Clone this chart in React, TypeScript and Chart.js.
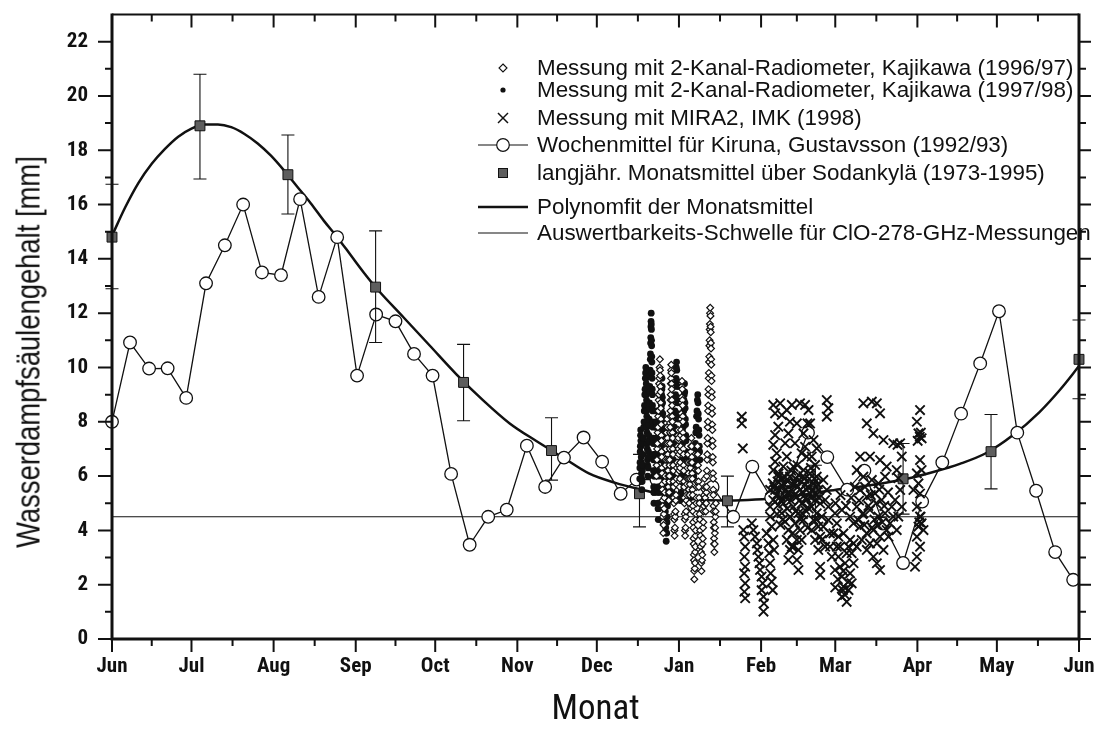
import React, { useEffect, useRef } from 'react';
import { Chart, registerables } from 'chart.js';

Chart.register(...registerables);

const FONT_COND = "'Roboto Condensed', 'Liberation Sans Narrow', 'Liberation Sans', Arial, sans-serif";
const FONT_REG = "'Liberation Sans', Arial, sans-serif";
const INK = '#111111';

// ---------- axes ----------
const monthStarts = [0, 30, 61, 92, 122, 153, 183, 214, 245, 273, 304, 334, 365];
const monthLabels = ['Jun', 'Jul', 'Aug', 'Sep', 'Oct', 'Nov', 'Dec', 'Jan', 'Feb', 'Mar', 'Apr', 'May', 'Jun'];
const monthMids = [15, 45.5, 76.5, 107, 137.5, 168, 198.5, 229.5, 258.5, 288.5, 319, 349.5];
const yMajorTicks = [0, 2, 4, 6, 8, 10, 12, 14, 16, 18, 20, 22];
const yMinorTicks = [1, 3, 5, 7, 9, 11, 13, 15, 17, 19, 21];

const xTitle = 'Monat';
const yTitle = 'Wasserdampfsäulengehalt [mm]';

const legendLabels = [
  'Messung mit 2-Kanal-Radiometer, Kajikawa (1996/97)',
  'Messung mit 2-Kanal-Radiometer, Kajikawa (1997/98)',
  'Messung mit MIRA2, IMK (1998)',
  'Wochenmittel für Kiruna, Gustavsson (1992/93)',
  'langjähr. Monatsmittel über Sodankylä (1973-1995)',
  'Polynomfit der Monatsmittel',
  'Auswertbarkeits-Schwelle für ClO-278-GHz-Messungen',
];

// ---------- data: [day since 1 June, mm] ----------
const kirunaWeekly: [number, number][] = [
  [0, 8.0], [6.8, 10.92], [14, 9.96], [21, 9.97], [28, 8.88], [35.5, 13.1], [42.6, 14.5], [49.5, 16.0],
  [56.6, 13.5], [63.8, 13.4], [71, 16.2], [78, 12.6], [85, 14.8], [92.5, 9.7], [99.7, 11.95], [107, 11.7],
  [114, 10.5], [121, 9.7], [128, 6.08], [135, 3.47], [142, 4.5], [149, 4.76], [156.6, 7.12], [163.5, 5.6],
  [170.6, 6.68], [178, 7.42], [185, 6.53], [192, 5.35], [198, 5.87], [205.5, 5.87], [212.7, 6.2], [219.7, 4.9],
  [226.7, 5.6], [234.5, 4.5], [241.7, 6.35], [248.8, 5.2], [255.8, 5.8], [262.7, 7.6], [270, 6.7], [277.5, 5.5],
  [284, 6.2], [291, 4.25], [298.6, 2.8], [305.8, 5.06], [313.4, 6.5], [320.5, 8.3], [327.7, 10.15], [334.8, 12.07],
  [341.7, 7.6], [348.8, 5.46], [356, 3.2], [362.8, 2.18],
];

const monthlyMeanDays = [0, 33.2, 66.4, 99.5, 132.7, 165.9, 199.1, 232.3, 265.5, 298.6, 331.8, 365];
const monthlyMeanVals = [14.8, 18.9, 17.1, 12.96, 9.45, 6.94, 5.35, 5.09, 5.45, 5.9, 6.9, 10.3];
const monthlyErrLow = [12.9, 16.94, 15.65, 10.92, 8.04, 5.85, 4.13, 4.13, 4.5, 4.6, 5.53, 8.85];
const monthlyErrHigh = [16.75, 20.8, 18.56, 15.03, 10.85, 8.15, 6.8, 6.0, 6.4, 7.2, 8.27, 11.75];

const polyFit: [number, number][] = [
  [0, 14.85], [5, 15.9], [10, 16.8], [15, 17.5], [20, 18.05], [25, 18.5], [30, 18.8], [35, 18.95],
  [40, 18.95], [45, 18.85], [50, 18.6], [55, 18.25], [60, 17.8], [65, 17.25], [70, 16.65], [75, 16.05],
  [80, 15.4], [85, 14.8], [90, 14.15], [95, 13.5], [100, 12.9], [110, 11.85], [120, 10.8], [130, 9.75],
  [140, 8.8], [150, 7.95], [160, 7.3], [170, 6.7], [180, 6.1], [190, 5.75], [200, 5.5], [210, 5.28],
  [220, 5.15], [230, 5.1], [240, 5.12], [250, 5.18], [260, 5.3], [270, 5.45], [280, 5.58], [290, 5.72],
  [300, 5.9], [310, 6.15], [320, 6.45], [330, 6.85], [340, 7.5], [350, 8.35], [358, 9.2], [365, 10.05],
];

const thresholdLine: [number, number][] = [[0, 4.5], [365, 4.5]];

const kajikawa9697: [number, number][] = [
  [205.5, 6.0], [205.59, 6.4], [205.69, 6.6], [205.78, 7.0], [205.87, 7.2], [205.96, 7.6], [206.06, 7.8], [206.15, 8.2], [206.24, 8.4], [206.33, 8.8], [206.43, 9.0], [206.52, 9.4], [206.61, 9.6], [206.7, 10.0], [206.8, 10.3],
  [206.86, 9.9], [206.92, 9.7], [206.98, 9.3], [207.04, 9.1], [207.1, 8.7], [207.16, 8.5], [207.22, 8.1], [207.28, 7.9], [207.34, 7.5], [207.4, 7.3], [207.46, 6.9], [207.52, 6.7], [207.58, 6.3], [207.64, 6.1], [207.7, 5.7], [207.76, 5.5], [207.82, 5.1], [207.88, 4.9], [207.94, 4.5], [208.0, 4.3], [208.06, 3.9],
  [208.2, 4.2], [208.3, 4.6], [208.4, 4.8], [208.5, 5.2], [208.6, 5.4], [208.7, 5.8], [208.8, 6.0], [208.9, 6.4], [209.0, 6.6], [209.1, 7.0], [209.2, 7.2], [209.3, 7.6], [209.4, 7.8], [209.5, 8.1],
  [209.6, 7.8], [209.66, 7.4], [209.72, 7.2], [209.78, 6.8], [209.84, 6.6], [209.9, 6.2], [209.96, 6.0], [210.02, 5.6], [210.08, 5.4], [210.15, 5.1],
  [210.3, 5.4], [210.35, 5.8], [210.4, 6.0], [210.45, 6.4], [210.5, 6.6], [210.55, 7.0], [210.6, 7.2], [210.65, 7.6], [210.7, 7.8], [210.75, 8.2], [210.8, 8.4], [210.85, 8.8], [210.9, 9.0], [210.95, 9.4], [211.0, 9.6], [211.05, 9.9], [211.1, 10.1],
  [211.15, 9.8], [211.21, 9.4], [211.27, 9.2], [211.33, 8.8], [211.39, 8.6], [211.45, 8.2], [211.51, 8.0], [211.57, 7.6], [211.63, 7.4], [211.69, 7.0], [211.75, 6.8], [211.81, 6.4], [211.87, 6.2], [211.93, 5.8], [211.99, 5.6], [212.05, 5.2], [212.11, 5.0], [212.17, 4.6], [212.23, 4.4], [212.29, 4.0], [212.35, 3.8],
  [212.5, 4.1], [212.6, 4.5], [212.7, 4.7], [212.8, 5.1], [212.9, 5.3], [213.0, 5.7], [213.1, 5.9], [213.2, 6.3], [213.3, 6.5], [213.4, 6.9], [213.5, 7.1], [213.6, 7.5], [213.7, 7.7],
  [213.78, 7.4], [213.86, 7.0], [213.94, 6.8], [214.02, 6.4], [214.1, 6.2], [214.18, 5.8], [214.26, 5.6],
  [214.35, 5.9], [214.42, 6.3], [214.48, 6.5], [214.55, 6.9], [214.62, 7.1], [214.68, 7.5], [214.75, 7.7], [214.82, 8.1], [214.88, 8.3], [214.95, 8.7], [215.02, 8.9], [215.08, 9.3], [215.15, 9.5],
  [215.25, 9.2], [215.31, 8.8], [215.37, 8.6], [215.43, 8.2], [215.49, 8.0], [215.55, 7.6], [215.61, 7.4], [215.67, 7.0], [215.73, 6.8], [215.79, 6.4], [215.85, 6.2], [215.91, 5.8], [215.97, 5.6], [216.03, 5.2], [216.09, 5.0], [216.15, 4.6], [216.21, 4.4], [216.27, 4.0], [216.33, 3.8],
  [216.5, 4.1], [216.6, 4.5], [216.7, 4.7], [216.8, 5.1], [216.9, 5.3], [217.0, 5.7], [217.1, 5.9], [217.2, 6.3], [217.3, 6.5], [217.4, 6.8],
  [217.5, 6.5], [217.58, 6.1], [217.66, 5.9], [217.74, 5.5], [217.82, 5.3], [217.9, 5.0],
  [218.0, 5.3], [218.1, 5.7], [218.2, 5.9], [218.3, 6.3], [218.4, 6.5], [218.5, 6.9], [218.6, 7.1], [218.7, 7.4],
  [218.8, 7.1], [218.86, 6.7], [218.93, 6.5], [218.99, 6.1], [219.05, 5.9], [219.11, 5.5], [219.18, 5.3], [219.24, 4.9], [219.3, 4.7], [219.36, 4.3], [219.43, 4.1], [219.49, 3.7], [219.55, 3.5], [219.61, 3.1], [219.68, 2.9], [219.74, 2.5], [219.8, 2.2],
  [220.0, 2.6], [220.07, 2.8], [220.13, 3.2], [220.2, 3.4], [220.27, 3.8], [220.33, 4.0], [220.4, 4.4], [220.47, 4.6], [220.53, 5.0], [220.6, 5.2], [220.67, 5.6], [220.73, 5.8], [220.8, 6.2], [220.87, 6.4], [220.93, 6.8], [221.0, 7.1],
  [221.1, 6.8], [221.2, 6.4], [221.3, 6.2], [221.4, 5.8], [221.5, 5.6], [221.6, 5.2], [221.7, 5.0], [221.8, 4.6], [221.9, 4.4], [222.0, 4.0], [222.1, 3.8], [222.2, 3.4], [222.3, 3.2], [222.4, 2.8], [222.5, 2.5],
  [222.7, 2.9], [222.8, 3.1], [222.9, 3.5], [223.0, 3.7], [223.1, 4.1], [223.2, 4.3], [223.3, 4.7], [223.4, 4.9], [223.5, 5.3], [223.6, 5.5], [223.7, 5.9],
  [223.8, 5.6], [223.9, 5.2], [224.0, 5.0], [224.1, 4.7],
  [224.3, 5.0], [224.36, 5.4], [224.43, 5.6], [224.49, 6.0], [224.55, 6.2], [224.61, 6.6], [224.68, 6.8], [224.74, 7.2], [224.8, 7.4], [224.86, 7.8], [224.93, 8.0], [224.99, 8.4], [225.05, 8.6], [225.11, 9.0], [225.18, 9.2], [225.24, 9.6], [225.3, 9.8], [225.36, 10.2], [225.43, 10.4], [225.49, 10.8], [225.55, 11.0], [225.61, 11.4], [225.68, 11.6], [225.74, 12.0], [225.8, 12.2],
  [225.9, 11.9], [225.95, 11.5], [226.0, 11.3], [226.05, 10.9], [226.1, 10.7], [226.15, 10.3], [226.2, 10.1], [226.25, 9.7], [226.3, 9.5], [226.35, 9.1], [226.4, 8.9], [226.45, 8.5], [226.5, 8.3], [226.55, 7.9], [226.6, 7.7], [226.65, 7.3], [226.7, 7.1], [226.75, 6.7], [226.8, 6.5], [226.85, 6.1], [226.9, 5.9], [226.95, 5.5], [227.0, 5.3], [227.05, 4.9], [227.1, 4.7], [227.15, 4.3], [227.2, 4.1], [227.25, 3.7], [227.3, 3.5], [227.35, 3.2],
  [227.45, 3.5], [227.55, 3.9], [227.65, 4.1], [227.75, 4.5], [227.85, 4.7], [227.95, 5.0],
];

const kajikawa9798: [number, number][] = [
  [199.2, 5.9], [199.25, 6.3], [199.31, 6.5], [199.37, 6.9], [199.43, 7.1], [199.5, 7.5], [199.56, 7.7],
  [199.62, 7.3], [199.68, 7.1], [199.75, 6.7], [199.8, 6.5], [199.87, 6.1], [199.93, 5.9], [199.98, 5.5],
  [200.1, 5.8], [200.19, 6.2], [200.3, 6.4], [200.41, 6.8], [200.5, 7.2], [200.6, 7.4], [200.69, 7.8], [200.8, 8.0], [200.91, 8.4], [201.0, 8.6], [201.1, 9.0], [201.2, 9.2], [201.31, 9.6], [201.4, 9.8], [201.5, 10.0],
  [201.6, 9.6], [201.65, 9.4], [201.7, 9.0], [201.76, 8.8], [201.8, 8.4], [201.86, 8.2], [201.9, 7.8], [201.95, 7.6], [202.0, 7.2], [202.05, 7.0], [202.1, 6.6], [202.16, 6.4], [202.2, 6.0],
  [202.4, 6.3], [202.46, 6.7], [202.52, 6.9], [202.58, 7.3], [202.64, 7.5], [202.7, 7.9], [202.76, 8.1], [202.82, 8.5], [202.88, 8.7], [202.94, 9.1], [203.0, 9.3], [203.06, 9.7], [203.12, 9.9], [203.18, 10.3], [203.24, 10.5], [203.3, 10.9], [203.36, 11.1], [203.42, 11.5], [203.47, 11.7], [203.52, 12.0],
  [203.56, 11.6], [203.61, 11.4], [203.65, 11.0], [203.7, 10.8], [203.74, 10.4], [203.79, 10.2], [203.83, 9.8], [203.88, 9.6], [203.92, 9.2], [203.97, 9.0], [204.01, 8.6], [204.06, 8.4], [204.1, 8.0], [204.15, 7.8], [204.19, 7.4], [204.24, 7.2], [204.28, 6.8], [204.33, 6.6], [204.37, 6.2], [204.42, 6.0], [204.46, 5.6], [204.51, 5.4], [204.55, 5.0],
  [204.7, 5.4], [204.77, 5.6], [204.84, 6.0], [204.91, 6.2], [204.98, 6.6], [205.05, 6.8], [205.12, 7.2], [205.19, 7.4], [205.26, 7.8], [205.33, 8.0], [205.4, 8.4],
  [205.46, 8.0], [205.52, 7.8], [205.58, 7.4], [205.64, 7.2], [205.7, 6.8], [205.76, 6.6], [205.82, 6.2], [205.88, 6.0], [205.94, 5.6], [206.0, 5.4], [206.06, 5.0], [206.12, 4.8], [206.18, 4.4],
  [206.4, 4.8], [206.48, 5.0], [206.55, 5.4], [206.63, 5.6], [206.7, 6.0], [206.78, 6.2], [206.85, 6.6], [206.93, 6.8], [207.0, 7.2], [207.08, 7.4], [207.15, 7.8], [207.23, 8.0], [207.3, 8.4], [207.38, 8.6], [207.45, 9.0], [207.53, 9.2], [207.6, 9.6],
  [207.66, 9.3], [207.74, 8.9], [207.82, 8.7], [207.9, 8.3], [207.98, 8.1], [208.06, 7.7], [208.14, 7.5], [208.22, 7.1], [208.3, 6.9], [208.38, 6.5], [208.46, 6.3], [208.54, 5.9], [208.62, 5.7], [208.7, 5.3], [208.78, 5.1], [208.86, 4.7], [208.94, 4.5], [209.02, 4.1], [209.1, 3.9], [209.18, 3.6],
  [209.4, 3.9], [209.5, 4.3], [209.6, 4.5], [209.7, 4.9], [209.8, 5.1], [209.9, 5.5], [210.0, 5.7], [210.1, 6.1], [210.2, 6.3], [210.3, 6.7], [210.4, 6.9], [210.5, 7.3], [210.6, 7.5],
  [210.68, 7.2], [210.76, 6.8], [210.84, 6.6], [210.92, 6.2], [211.0, 6.0], [211.08, 5.6], [211.16, 5.4], [211.24, 5.1],
  [211.5, 5.4], [211.6, 5.8], [211.7, 6.0], [211.8, 6.4], [211.9, 6.6], [212.0, 7.0], [212.1, 7.2], [212.2, 7.6], [212.3, 7.8], [212.4, 8.2], [212.5, 8.4], [212.6, 8.8], [212.7, 9.0], [212.8, 9.4], [212.9, 9.6], [213.0, 10.0], [213.1, 10.2],
  [213.18, 9.9], [213.26, 9.5], [213.34, 9.3], [213.42, 8.9], [213.5, 8.7], [213.58, 8.3], [213.66, 8.1], [213.74, 7.7], [213.82, 7.5], [213.9, 7.1], [213.98, 6.9], [214.06, 6.5], [214.14, 6.3], [214.22, 5.9], [214.3, 5.7], [214.38, 5.3], [214.46, 5.1],
  [214.8, 5.4], [214.9, 5.8], [215.0, 6.0], [215.1, 6.4], [215.2, 6.6], [215.3, 7.0], [215.4, 7.2], [215.5, 7.6], [215.6, 7.8], [215.7, 8.2], [215.8, 8.4], [215.9, 8.8], [216.0, 9.0], [216.1, 9.4],
  [216.18, 9.1], [216.26, 8.7], [216.34, 8.5], [216.42, 8.1], [216.5, 7.9], [216.58, 7.5], [216.66, 7.3], [216.74, 6.9], [216.82, 6.7], [216.9, 6.3], [216.98, 6.1], [217.06, 5.7],
  [219.6, 6.0], [219.75, 6.4], [219.9, 6.6], [220.05, 7.0], [220.2, 7.2], [220.35, 7.6], [220.5, 7.8], [220.65, 8.2], [220.8, 8.4], [220.95, 8.8], [221.1, 9.0],
  [221.2, 8.7], [221.3, 8.3], [221.4, 8.1], [221.5, 7.7], [221.6, 7.5], [221.7, 7.1], [221.8, 6.9], [221.9, 6.6],
];

const mira2: [number, number][] = [
  [237.7, 8.19], [237.7, 7.94], [238.1, 7.02], [238.3, 4.01], [238.6, 3.77], [239.0, 3.4], [238.7, 3.03], [239.0, 2.66], [238.6, 2.42], [239.0, 2.05], [238.7, 1.74], [239.0, 1.5],
  [241.5, 4.26], [242.1, 4.01], [242.7, 3.77], [243.4, 3.52], [243.6, 3.28], [244.0, 3.03], [244.4, 2.79], [244.6, 2.54], [245.2, 2.3], [245.6, 2.05], [245.2, 1.8], [245.9, 1.56], [246.1, 1.31], [245.9, 1.01],
  [247.1, 3.89], [247.8, 3.52], [248.1, 3.16], [248.4, 2.79], [248.6, 2.42], [249.0, 2.11], [249.4, 1.8], [249.6, 3.65], [249.9, 3.28], [249.0, 4.14], [248.4, 4.51], [248.4, 4.87], [249.6, 5.12], [250.3, 5.49], [249.4, 5.73], [248.4, 5.49],
  [249.6, 8.62], [250.3, 8.31], [252.2, 8.68], [252.8, 8.25], [251.5, 7.82], [250.3, 7.51], [249.6, 7.15], [250.9, 6.84], [250.3, 6.53], [249.6, 6.22], [251.5, 5.98], [252.8, 5.67], [254.1, 5.49], [252.2, 5.24], [253.4, 4.99], [254.7, 5.36], [251.5, 4.93], [252.8, 4.63], [254.1, 4.32], [255.3, 4.01], [254.7, 3.65], [255.9, 3.28], [255.3, 2.91], [256.6, 3.4], [253.4, 6.35], [254.7, 6.72], [254.1, 7.21], [255.3, 7.57], [255.9, 8.0], [254.7, 8.43],
  [256.6, 8.62], [259.7, 8.68], [261.6, 8.62], [262.9, 8.43], [258.5, 7.94], [261.0, 7.57], [257.8, 7.21], [260.3, 6.84], [257.2, 6.35], [259.1, 6.04], [261.0, 6.22], [257.8, 5.73], [259.7, 5.49], [261.6, 5.67], [258.5, 5.24], [260.3, 4.99], [262.2, 5.12], [257.2, 4.87], [259.1, 4.63], [261.0, 4.38], [257.8, 4.26], [259.7, 4.01], [258.5, 3.65], [259.1, 3.28], [258.5, 2.91], [259.1, 2.54], [257.2, 3.4], [260.3, 3.65], [261.6, 4.75], [262.2, 5.49], [256.6, 5.49], [255.9, 5.98], [262.2, 6.72], [261.6, 7.08], [262.5, 7.94],
  [263.5, 7.94], [264.8, 7.33], [266.0, 7.02], [264.1, 6.72], [265.4, 6.41], [263.5, 6.1], [266.0, 5.98], [264.8, 5.73], [266.6, 5.49], [263.5, 5.36], [265.4, 5.12], [267.3, 4.99], [264.1, 4.87], [266.0, 4.63], [264.8, 4.38], [266.6, 4.14], [264.1, 4.01], [267.3, 3.77], [266.6, 3.28], [267.3, 2.66], [267.3, 2.36], [265.4, 3.65],
  [269.8, 8.8], [270.4, 8.5], [269.8, 8.19], [268.5, 5.86], [269.8, 5.49], [269.2, 5.12], [270.4, 4.87], [267.9, 4.51], [268.5, 4.14], [267.9, 3.65], [269.2, 3.4], [270.4, 4.38], [271.0, 3.89],
  [272.3, 3.89], [273.6, 3.4], [274.2, 3.03], [274.8, 2.66], [275.5, 2.3], [276.1, 1.93], [276.7, 1.62], [277.3, 1.37], [272.9, 2.54], [271.7, 3.03], [271.0, 3.4], [278.6, 2.42], [279.2, 2.05], [279.9, 2.79], [277.3, 3.16], [278.6, 3.65], [275.5, 4.75], [273.6, 4.26], [276.1, 3.89], [278.0, 3.4], [274.8, 3.4], [276.7, 2.79], [272.9, 4.63], [274.2, 3.77], [279.2, 3.16], [278.0, 1.8], [275.5, 1.56], [279.9, 3.52], [279.9, 4.26], [278.6, 4.51],
  [283.6, 8.68], [286.8, 8.74], [288.7, 8.68], [289.9, 8.31], [284.9, 7.94], [287.4, 7.57], [291.2, 7.33], [282.4, 6.72], [286.1, 6.72], [289.9, 6.59], [292.4, 6.35], [281.1, 6.22], [283.6, 5.98], [286.8, 5.86], [289.3, 5.73], [291.8, 5.98], [282.4, 5.49], [284.9, 5.24], [288.0, 5.36], [290.5, 5.12], [281.1, 4.87], [283.6, 4.63], [286.1, 4.75], [289.3, 4.51], [291.8, 4.63], [282.4, 4.14], [284.9, 3.89], [287.4, 4.01], [289.9, 3.77], [292.4, 4.01], [281.1, 3.4], [284.9, 3.28], [287.4, 3.03], [288.7, 2.79], [289.9, 2.54], [291.2, 3.28], [286.1, 3.52], [283.0, 3.65], [281.7, 4.38], [288.7, 3.52],
  [294.9, 7.21], [297.5, 7.21], [298.1, 6.72], [296.2, 6.22], [296.8, 5.92], [297.5, 5.49], [295.6, 5.12], [294.9, 4.51], [296.2, 4.01], [293.7, 4.26], [293.1, 3.77], [294.3, 4.87], [298.1, 4.87], [296.8, 4.51], [296.5, 7.15],
  [305.0, 8.43], [303.8, 8.0], [304.4, 7.57], [305.6, 7.39], [305.0, 6.59], [303.8, 6.1], [304.4, 5.73], [305.0, 5.36], [303.8, 4.87], [305.0, 4.51], [304.4, 4.14], [303.8, 3.77], [305.0, 3.4], [303.8, 3.03], [303.1, 2.66], [305.6, 4.26], [306.3, 4.01], [302.5, 5.49], [305.6, 6.22], [304.9, 7.45], [305.3, 7.6], [304.1, 7.3], [304.7, 4.3], [305.2, 4.5],
  [250.0, 5.6], [250.8, 5.3], [251.2, 5.8], [251.9, 5.5], [252.5, 5.1], [253.0, 5.9], [253.8, 5.7], [254.4, 5.2], [255.0, 5.8], [255.6, 5.4], [256.2, 5.1], [256.9, 5.7], [257.5, 5.3], [258.1, 5.9], [258.8, 5.6], [259.4, 5.1], [260.0, 5.8], [260.7, 5.4], [261.3, 5.9], [262.0, 5.2], [262.7, 5.6], [263.2, 5.9], [263.9, 5.2], [264.5, 5.5], [265.1, 5.9], [265.8, 5.3], [266.4, 5.7], [267.0, 5.2],
  [251.0, 4.6], [253.2, 4.4], [256.0, 4.5], [258.0, 4.7], [260.8, 4.6], [263.0, 4.8],
  [282.0, 5.1], [283.3, 4.6], [284.2, 5.6], [285.5, 4.9], [286.4, 5.3], [287.8, 4.4], [288.4, 5.0], [289.6, 5.5], [290.8, 4.3], [291.5, 4.9], [292.9, 5.4], [284.0, 4.2], [286.9, 4.1], [289.0, 4.2],
  [251.6, 6.1], [253.7, 6.0], [256.4, 6.2], [258.7, 6.4], [260.9, 6.0], [263.8, 6.3], [252.3, 4.2], [254.9, 4.8], [257.0, 3.9], [259.8, 4.4], [262.6, 4.1], [265.9, 4.4],
  [273.1, 5.0], [275.0, 5.3], [277.0, 4.9], [279.0, 5.2], [280.4, 5.6], [274.0, 2.2], [276.0, 2.5], [277.8, 2.1], [273.0, 1.9], [275.9, 1.8],
];

const toXY = (arr: [number, number][]) => arr.map(([x, y]) => ({ x, y }));

const errorBarPlugin = {
  id: 'errorBars',
  beforeDatasetDraw(chart: any, args: any) {
    if (chart.data.datasets[args.index].label !== legendLabels[4]) return;
    const { ctx, scales } = chart;
    const xs = scales.x, ys = scales.y;
    ctx.save();
    ctx.strokeStyle = INK;
    ctx.lineWidth = 1.1;
    monthlyMeanDays.forEach((d, i) => {
      const px = xs.getPixelForValue(d);
      const lo = ys.getPixelForValue(monthlyErrLow[i]);
      const hi = ys.getPixelForValue(monthlyErrHigh[i]);
      ctx.beginPath();
      ctx.moveTo(px, lo); ctx.lineTo(px, hi);
      ctx.moveTo(px - 6.5, lo); ctx.lineTo(px + 6.5, lo);
      ctx.moveTo(px - 6.5, hi); ctx.lineTo(px + 6.5, hi);
      ctx.stroke();
    });
    ctx.restore();
  },
};

const frameTicksPlugin = {
  id: 'frameTicks',
  afterDatasetsDraw(chart: any) {
    const { ctx, chartArea } = chart;
    const { left, right, top, bottom } = chartArea;
    const xs = chart.scales.x, ys = chart.scales.y;
    ctx.save();
    ctx.strokeStyle = INK;
    ctx.lineCap = 'butt';
    ctx.lineWidth = 3;
    ctx.beginPath();
    ctx.moveTo(left, top - 1); ctx.lineTo(left, bottom + 1.5);
    ctx.moveTo(left - 1.5, bottom); ctx.lineTo(right + 1.5, bottom);
    ctx.moveTo(right, top - 1); ctx.lineTo(right, bottom + 1.5);
    ctx.stroke();
    ctx.lineWidth = 2;
    ctx.beginPath();
    ctx.moveTo(left, top); ctx.lineTo(right, top);
    ctx.stroke();
    ctx.lineWidth = 2;
    ctx.beginPath();
    monthStarts.forEach((v) => {
      const px = xs.getPixelForValue(v);
      ctx.moveTo(px, bottom); ctx.lineTo(px, bottom + 13);
      ctx.moveTo(px, top); ctx.lineTo(px, top + 13);
    });
    monthMids.forEach((v) => {
      const px = xs.getPixelForValue(v);
      ctx.moveTo(px, bottom); ctx.lineTo(px, bottom + 7);
      ctx.moveTo(px, top); ctx.lineTo(px, top + 7);
    });
    yMajorTicks.forEach((v) => {
      const py = ys.getPixelForValue(v);
      ctx.moveTo(left - 14, py); ctx.lineTo(left, py);
      ctx.moveTo(right, py); ctx.lineTo(right + 12, py);
    });
    yMinorTicks.forEach((v) => {
      const py = ys.getPixelForValue(v);
      ctx.moveTo(left - 7, py); ctx.lineTo(left, py);
      ctx.moveTo(right, py); ctx.lineTo(right + 7, py);
    });
    ctx.stroke();
    ctx.restore();
  },
};

const tickFont = { family: FONT_COND, size: 21, weight: 'bold' as const };

const zeroScalePadding = (s: any) => {
  s.paddingTop = 0; s.paddingBottom = 0; s.paddingLeft = 0; s.paddingRight = 0;
};

function LegendSymbol({ kind }: { kind: number }) {
  const common = { width: 52, height: 24 };
  switch (kind) {
    case 0:
      return (<svg {...common}><polygon points="25,8 29,12 25,16 21,12" fill="#fff" stroke={INK} strokeWidth={1.1} /></svg>);
    case 1:
      return (<svg {...common}><circle cx={25} cy={12} r={2.6} fill={INK} /></svg>);
    case 2:
      return (
        <svg {...common}>
          <line x1={20} y1={7} x2={30} y2={17} stroke={INK} strokeWidth={1.5} />
          <line x1={30} y1={7} x2={20} y2={17} stroke={INK} strokeWidth={1.5} />
        </svg>
      );
    case 3:
      return (
        <svg {...common}>
          <line x1={0} y1={12} x2={50} y2={12} stroke={INK} strokeWidth={1.1} />
          <circle cx={25} cy={12} r={6.3} fill="#fff" stroke={INK} strokeWidth={1.2} />
        </svg>
      );
    case 4:
      return (<svg {...common}><rect x={20.5} y={7.5} width={9} height={9} fill="#5e5e5e" stroke={INK} strokeWidth={1} /></svg>);
    case 5:
      return (<svg {...common}><line x1={0} y1={12} x2={50} y2={12} stroke={INK} strokeWidth={2.4} /></svg>);
    default:
      return (<svg {...common}><line x1={0} y1={12} x2={50} y2={12} stroke={INK} strokeWidth={1.1} /></svg>);
  }
}

const legendRowY = [68, 90, 118, 145, 173, 207, 233];

export default function App() {
  const canvasRef = useRef<HTMLCanvasElement | null>(null);

  useEffect(() => {
    const canvas = canvasRef.current;
    if (!canvas) return;
    const chart = new Chart(canvas, {
      type: 'scatter',
      data: {
        datasets: [
          { label: legendLabels[2], data: toXY(mira2), order: 0, pointStyle: 'crossRot', pointRadius: 6.6, borderColor: INK, backgroundColor: INK, pointBorderWidth: 1.9 },
          { label: legendLabels[0], data: toXY(kajikawa9697), order: 1, pointStyle: 'rectRot', pointRadius: 3.4, borderColor: INK, backgroundColor: '#ffffff', pointBorderWidth: 1.2 },
          { label: legendLabels[1], data: toXY(kajikawa9798), order: 2, pointStyle: 'circle', pointRadius: 3.4, borderColor: INK, backgroundColor: INK, pointBorderWidth: 0 },
          {
            label: legendLabels[4],
            data: monthlyMeanDays.map((d, i) => ({ x: d, y: monthlyMeanVals[i] })),
            order: 3, pointStyle: 'rect', pointRadius: 7, borderColor: INK, backgroundColor: '#5e5e5e', pointBorderWidth: 1, clip: 8,
          },
          {
            label: legendLabels[3], data: toXY(kirunaWeekly), order: 4, showLine: true, borderColor: INK, borderWidth: 1.3,
            pointStyle: 'circle', pointRadius: 6.3, pointBackgroundColor: '#ffffff', pointBorderColor: INK, pointBorderWidth: 1.3, clip: 8,
          },
          { label: legendLabels[5], data: toXY(polyFit), order: 5, showLine: true, borderColor: INK, borderWidth: 2.5, pointRadius: 0, cubicInterpolationMode: 'monotone' },
          { label: legendLabels[6], data: toXY(thresholdLine), order: 6, showLine: true, borderColor: INK, borderWidth: 1.1, pointRadius: 0 },
        ] as any,
      },
      options: {
        responsive: true,
        maintainAspectRatio: false,
        animation: false,
        events: [],
        layout: { padding: { left: 0, right: 16, top: 14.5, bottom: 0 } },
        plugins: { legend: { display: false }, tooltip: { enabled: false } },
        scales: {
          x: {
            type: 'linear', min: 0, max: 365,
            afterBuildTicks: (s: any) => { s.ticks = monthStarts.map((v) => ({ value: v })); },
            afterFit: (s: any) => { s.height = 92; zeroScalePadding(s); },
            grid: { display: false, drawTicks: false },
            border: { display: false },
            ticks: { autoSkip: false, maxRotation: 0, padding: 15, color: INK, font: tickFont, callback: (_v: any, i: number) => monthLabels[i] },
            title: { display: true, text: xTitle, color: INK, font: { family: FONT_COND, size: 35, lineHeight: 1.0 }, padding: { top: 0, bottom: 3 } },
          },
          y: {
            type: 'linear', min: 0, max: 23,
            afterBuildTicks: (s: any) => { s.ticks = yMajorTicks.map((v) => ({ value: v })); },
            afterFit: (s: any) => { s.width = 112; zeroScalePadding(s); },
            grid: { display: false, drawTicks: false },
            border: { display: false },
            ticks: { padding: 24, color: INK, font: tickFont, callback: (v: any) => String(v) },
          },
        },
      } as any,
      plugins: [errorBarPlugin, frameTicksPlugin],
    });
    return () => chart.destroy();
  }, []);

  return (
    <div style={{ position: 'absolute', left: 0, top: 0, width: 1095, height: 731, background: '#fff', overflow: 'hidden' }}>
      <div style={{ position: 'absolute', left: 0, top: 0, width: 1095, height: 731 }}>
        <canvas ref={canvasRef} />
      </div>
      <div
        style={{
          position: 'absolute', left: 28, top: 352, transform: 'translate(-50%, -50%) rotate(-90deg) scaleX(0.83)',
          whiteSpace: 'nowrap', fontFamily: FONT_REG, fontSize: 33, color: INK, lineHeight: 1,
        }}
      >
        {yTitle}
      </div>
      {legendLabels.map((label, i) => (
        <div key={i} style={{ position: 'absolute', left: 478, top: legendRowY[i] - 12, height: 24, display: 'flex', alignItems: 'center' }}>
          <LegendSymbol kind={i} />
          <span style={{ position: 'absolute', left: 59, top: 0, lineHeight: '24px', whiteSpace: 'nowrap', fontFamily: FONT_REG, fontSize: 22.4, color: INK }}>{label}</span>
        </div>
      ))}
    </div>
  );
}
